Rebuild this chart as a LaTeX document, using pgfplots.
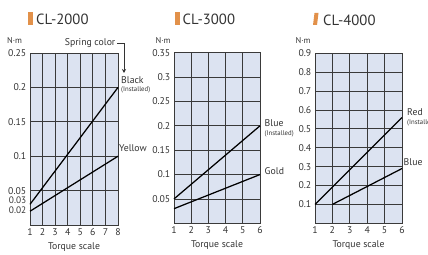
\documentclass[border=0pt]{standalone}
\usepackage{pgfplots}
\pgfplotsset{compat=1.18}
\usepackage{fontspec}
\setmainfont{PT Sans}
\usetikzlibrary{arrows.meta}
\definecolor{bgblue}{HTML}{DCE3F1}
\definecolor{gridc}{HTML}{3A3A3A}
\definecolor{txt}{HTML}{333333}
\definecolor{orng}{HTML}{E2914A}
\pgfplotsset{
  cl/.style={
    scale only axis,
    anchor=south west,
    axis background/.style={fill=bgblue},
    axis line style={gridc, line width=0.9bp},
    major tick length=0pt,
    xmajorgrids,
    grid style={gridc, line width=0.8bp},
    ymin=0, xmin=1,
    scaled y ticks=false,
    /pgf/number format/assume math mode=true,
    tick label style={font=\fontsize{9.8}{10}\selectfont, text=txt},
    yticklabel style={inner sep=0.5bp, xshift=-3bp},
    xlabel={Torque scale},
    xlabel style={font=\fontsize{9.8}{10}\selectfont, text=txt, at={(axis description cs:0.5,0)}, anchor=center, yshift=-22bp},
    clip=false,
  },
  dl/.style={black, line width=1.25bp, no marks},
}
\begin{document}
\begin{tikzpicture}[x=1bp,y=1bp]
\path[use as bounding box] (0,0) rectangle (428,255);

% CL-2000
\begin{axis}[cl, at={(30bp,30bp)}, width=88bp, height=172bp,
  xmax=8, ymax=0.25, xtick={1,2,3,4,5,6,7,8},
  ytick={0.02,0.03},
  yticklabels={\fontsize{9.4}{9}\selectfont\smash{\raisebox{-2.2bp}{0.02}},\fontsize{9.4}{9}\selectfont\smash{\raisebox{1.2bp}{0.03}}},
  extra y ticks={0.05,0.1,0.15,0.2,0.25},
  extra y tick labels={0.05,0.1,0.15,0.2,0.25},
  extra y tick style={ymajorgrids=true, grid style={gridc, line width=0.8bp}}]
\addplot[dl] coordinates {(1,0.03) (8,0.2)};
\addplot[dl] coordinates {(1,0.02) (8,0.1)};
\end{axis}

% CL-3000
\begin{axis}[cl, at={(174bp,31.7bp)}, width=86bp, height=170.6bp,
  xmax=6, ymax=0.35, xtick={1,2,3,4,5,6},
  ymajorgrids,
  ytick={0.05,0.1,0.15,0.2,0.25,0.3,0.35},
  yticklabels={0.05,0.1,0.15,0.2,0.25,0.3,0.35}]
\addplot[dl] coordinates {(1,0.05) (6,0.2)};
\addplot[dl] coordinates {(1,0.03) (6,0.1)};
\end{axis}

% CL-4000
\begin{axis}[cl, at={(315bp,31.7bp)}, width=87bp, height=170bp,
  xmax=6, ymax=0.9, xtick={1,2,3,4,5,6},
  ymajorgrids,
  ytick={0.1,0.2,0.3,0.4,0.5,0.6,0.7,0.8,0.9},
  yticklabels={0.1,0.2,0.3,0.4,0.5,0.6,0.7,0.8,0.9}]
\addplot[dl] coordinates {(1,0.1) (6,0.56)};
\addplot[dl] coordinates {(2,0.1) (6,0.29)};
\end{axis}

% titles
\fill[orng] (28,230) rectangle (32.5,243);
\node[anchor=west, inner sep=0, text=txt, font=\fontsize{14.8}{15}\selectfont] at (36,236) {CL-2000};
\fill[orng] (175,230) rectangle (179.5,243);
\node[anchor=west, inner sep=0, text=txt, font=\fontsize{14.8}{15}\selectfont] at (182.5,235.5) {CL-3000};
\fill[orng] (313,230) -- (317,230) -- (318.5,242) -- (314.5,242) -- cycle;
\node[anchor=west, inner sep=0, text=txt, font=\fontsize{14.8}{15}\selectfont] at (323,234.5) {CL-4000};

% units
\node[inner sep=0, text=txt, font=\fontsize{8.5}{9}\selectfont] at (14.5,214) {N·m};
\node[inner sep=0, text=txt, font=\fontsize{8.5}{9}\selectfont] at (163,214) {N·m};
\node[inner sep=0, text=txt, font=\fontsize{8.5}{9}\selectfont] at (303,214) {N·m};

% annotations CL-2000
\node[anchor=east, inner sep=0, text=txt, font=\fontsize{9.8}{10}\selectfont] at (115.5,212) {Spring color};
\draw[txt, line width=0.8bp, -{Stealth[length=4bp,width=4bp]}] (117,212) -- (124,212) -- (124,182);
\node[anchor=west, inner sep=0, text=txt, font=\fontsize{9.8}{10}\selectfont] at (121,175) {Black};
\node[anchor=west, inner sep=0, text=txt, font=\fontsize{6.8}{7}\selectfont] at (121,165) {(Installed)};
\node[anchor=west, inner sep=0, text=txt, font=\fontsize{9.8}{10}\selectfont] at (119,107) {Yellow};

% annotations CL-3000
\node[anchor=west, inner sep=0, text=txt, font=\fontsize{9.8}{10}\selectfont] at (264.5,132) {Blue};
\node[anchor=west, inner sep=0, text=txt, font=\fontsize{6.8}{7}\selectfont] at (264.5,121.5) {(Installed)};
\node[anchor=west, inner sep=0, text=txt, font=\fontsize{9.8}{10}\selectfont] at (264.5,84) {Gold};

% annotations CL-4000
\node[anchor=west, inner sep=0, text=txt, font=\fontsize{9.8}{10}\selectfont] at (407,143) {Red};
\node[anchor=west, inner sep=0, text=txt, font=\fontsize{6.8}{7}\selectfont] at (407,132.5) {(Installed)};
\node[anchor=west, inner sep=0, text=txt, font=\fontsize{9.8}{10}\selectfont] at (403.5,93) {Blue};
\end{tikzpicture}
\end{document}
